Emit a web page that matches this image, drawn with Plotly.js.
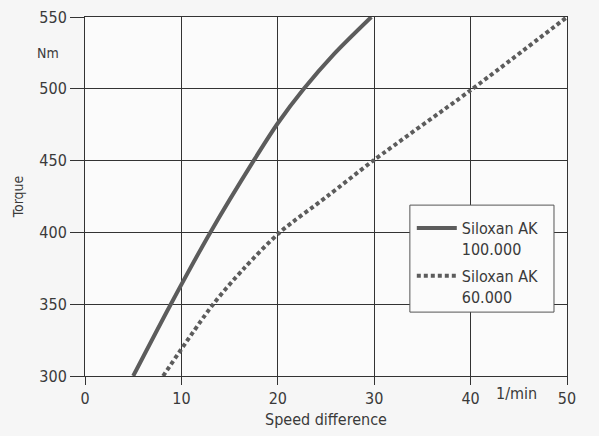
<!DOCTYPE html>
<html>
<head>
<meta charset="utf-8">
<script src="https://cdn.plot.ly/plotly-3.0.1.min.js"></script>
<style>html,body{margin:0;padding:0;background:#f6f6f6;}#chart{width:599px;height:436px;}</style>
</head>
<body>
<div id="chart"></div>
<script>
// Siloxan AK 100.000 (solid)
const speed100k = [5.0, 8.9, 13.0, 17.5, 20.0, 22.7, 25.8, 29.7];
const torque100k = [300, 350, 400, 450, 476, 500, 524, 550];
// Siloxan AK 60.000 (dashed)
const speed60k = [8.1, 13.3, 16.5, 20.2, 25.1, 29.9, 40.0, 50.0];
const torque60k = [300, 350, 375, 400, 425, 450, 499, 550];

const xTicks = [0, 10, 20, 30, 40, 50];
const yTicks = [300, 350, 400, 450, 500, 550];
const seriesNames = ["Siloxan AK<br>100.000", "Siloxan AK<br>60.000"];

const FONT = "'DejaVu Sans Condensed', 'DejaVu Sans', sans-serif";
const INK = "#3a3a3a";
const LINECOL = "#5c5c5c";

const traces = [
  {x: speed100k, y: torque100k, name: seriesNames[0], mode: "lines", legendgroup: "a",
   line: {color: LINECOL, width: 4, shape: "spline", smoothing: 0.8}},
  {x: speed60k, y: torque60k, name: seriesNames[1], mode: "lines", legendgroup: "b",
   line: {color: LINECOL, width: 4, dash: "4px,3px", shape: "spline", smoothing: 0.8}}
];

const layout = {
  width: 599, height: 436,
  margin: {l: 85, r: 32, t: 17, b: 60},
  paper_bgcolor: "#f6f6f6",
  plot_bgcolor: "#fbfbfb",
  font: {family: FONT, size: 16, color: INK},
  showlegend: true,
  legend: {
    x: 0.678, y: 0.459, xanchor: "left", yanchor: "top",
    bgcolor: "rgba(0,0,0,0)", borderwidth: 0,
    font: {family: FONT, size: 16, color: INK},
    valign: "top", itemwidth: 40, tracegroupgap: 3
  },
  shapes: [
    {type: "rect", xref: "paper", yref: "paper", x0: 0.674, x1: 0.973, y0: 0.178, y1: 0.476,
     fillcolor: "#fbfbfb", line: {color: "#555", width: 1}, layer: "above"}
  ],
  xaxis: {
    range: [0, 50], tickvals: xTicks, ticktext: xTicks.map(String),
    showgrid: true, gridcolor: "#333", gridwidth: 1,
    showline: true, linecolor: "#333", linewidth: 1, mirror: true,
    ticks: "outside", ticklen: 8, tickcolor: "#333", tickwidth: 1,
    zeroline: false, fixedrange: true,
    title: {text: "Speed difference", font: {family: FONT, size: 16, color: INK}, standoff: 6}
  },
  yaxis: {
    range: [300, 550], tickvals: yTicks, ticktext: yTicks.map(String),
    showgrid: true, gridcolor: "#333", gridwidth: 1,
    showline: true, linecolor: "#333", linewidth: 1, mirror: true,
    ticks: "outside", ticklen: 14, tickcolor: "#333", tickwidth: 1,
    zeroline: false, fixedrange: true,
    title: {text: "Torque", font: {family: FONT, size: 14, color: INK}, standoff: 12}
  },
  annotations: [
    {text: "Nm", xref: "paper", yref: "paper", x: -0.05, y: 0.9, xanchor: "right", yanchor: "middle",
     showarrow: false, font: {family: FONT, size: 14, color: INK}},
    {text: "1/min", xref: "paper", yref: "paper", x: 0.895, y: -0.017, xanchor: "center", yanchor: "top",
     showarrow: false, font: {family: FONT, size: 16, color: INK}}
  ]
};

Plotly.newPlot("chart", traces, layout, {displayModeBar: false, staticPlot: true});
</script>
</body>
</html>
